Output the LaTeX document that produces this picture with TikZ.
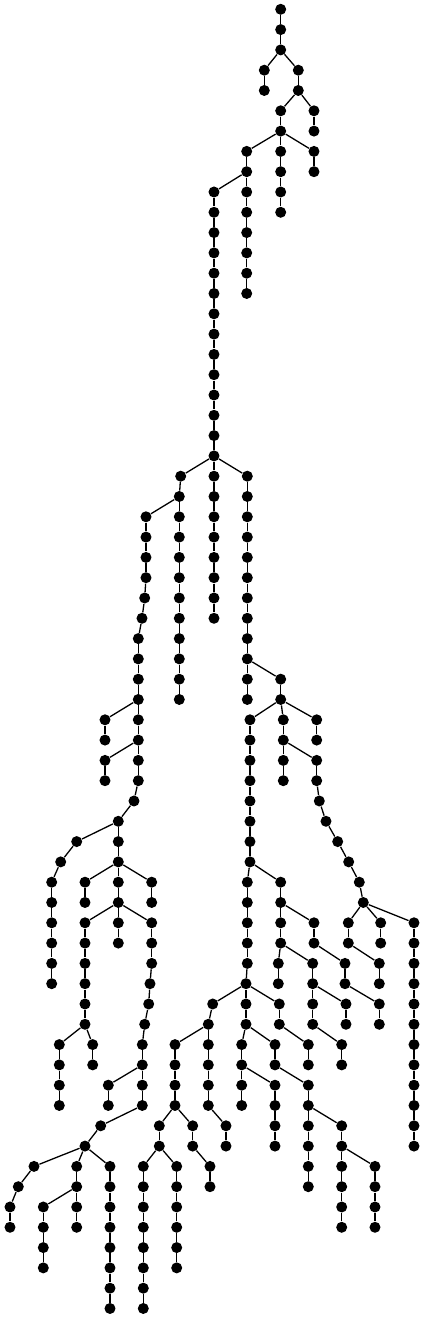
\documentclass[tikz,border=0pt]{standalone}
\usepackage{tikz}

\tikzset{
    dot/.style={circle, fill=black, inner sep=0pt, minimum size=5.5pt},
    edge/.style={line width=0.65pt, black}
}

\begin{document}
\begin{tikzpicture}[x=0.5pt, y=-10.15pt]
    \useasboundingbox (0,-0.458) rectangle (424,64.42);

    % Root
    \node[dot] (r0) at (280.7,0) {};

    % Chains: name / x / first level / last level / parent
    \foreach \nm/\xx/\lo/\hi/\pa in {
        r/280.7/1/2/r0,
        a/264.3/3/4/r2, b/298.3/3/4/r2,
        c/314/5/6/b4, d/280.7/5/6/b4,
        e/314/7/8/d6, f/280.7/7/10/d6, g/246.7/7/8/d6,
        h/246.7/9/14/g8, m/214/9/22/g8,
        % left part
        p/180.7/23/23/m22, p/179.3/24/24/p23, q/179.3/25/34/p24,
        s/146/25/28/p24, s/144.7/29/29/s28, s/142/30/30/s29, s/138.3/31/36/s30,
        t/214/23/30/m22, u/247.3/23/34/m22, v/280.7/33/34/u32,
        w/105/35/36/s34, x/105/37/38/s36,
        s/138.3/37/38/s36, s/134/39/39/s38, s/118.3/40/40/s39,
        y/76.7/41/41/s40, y/60.7/42/42/y41, y/51.7/43/48/y42,
        z/118.3/41/44/s40, za/85/43/44/z42, zb/151.7/43/44/z42,
        zc/118.3/45/46/z44,
        k/85/45/50/z44, ka/59.3/51/54/k50, kb/92.7/51/52/k50,
        j/151.7/45/47/z44, j/150/48/48/j47, j/148.7/49/49/j48,
        j/144.7/50/50/j49, j/142.3/51/54/j50, ja/108.3/53/54/j52,
        j/100.7/55/55/j54, j/85/56/56/j55,
        jb/34/57/57/j56, jb/18.3/58/58/jb57, jb/10/59/60/jb58,
        jc/76.7/57/58/j56, jd/43.3/59/62/jc58, jc/76.7/59/60/jc58,
        je/110/57/64/j56,
        % right part
        n/250/35/42/v34, o/283.3/35/38/v34, oa/316.7/35/36/v34,
        ob/316.7/37/38/o36, ob/319.3/39/39/ob38, ob/326/40/40/ob39,
        ob/337.7/41/41/ob40, ob/348.7/42/42/ob41, ob/359.3/43/43/ob42,
        ob/363.3/44/44/ob43,
        oc/348.3/45/46/ob44, oc/379.3/47/48/oc46,
        od/380.7/45/46/ob44, oe/414/45/56/ob44,
        n/247.3/43/47/n42, n/246/48/48/n47,
        i/280.7/43/46/n42, i/278.3/47/48/i46,
        ia/314/45/46/i44, ia/345/47/48/ia46, ia/379.3/49/50/ia48,
        ib/312.7/47/50/i46, ic/346/49/50/ib48, ib/341.7/51/52/ib50,
        % bottom part
        l/212.7/49/49/n48, l/208.3/50/54/l49, l/226/55/56/l54,
        la/175/51/54/l50, lb/159.3/55/56/la54,
        lc/143.3/57/64/lb56, ld/176.7/57/62/lb56,
        le/192.7/55/56/la54, le/210/57/58/le56,
        nb/246/49/50/n48, nc/241.7/51/54/nb50, nd/275/53/56/nc52,
        ne/275/51/52/nb50, nf/308.3/53/58/ne52,
        ng/341.7/55/60/nf54, nh/375/57/60/ng56,
        ni/279.3/49/50/n48, ni/308.3/51/52/ni50}
    {
        \foreach \l in {\lo,...,\hi}
            \node[dot] (\nm\l) at (\xx,\l) {};
        \draw[edge] (\pa) -- (\nm\lo);
        \pgfmathtruncatemacro\st{\lo+1}
        \ifnum\lo<\hi
            \foreach \l in {\st,...,\hi}{
                \pgfmathtruncatemacro\pv{\l-1}
                \draw[edge] (\nm\pv) -- (\nm\l);
            }
        \fi
    }
\end{tikzpicture}
\end{document}
